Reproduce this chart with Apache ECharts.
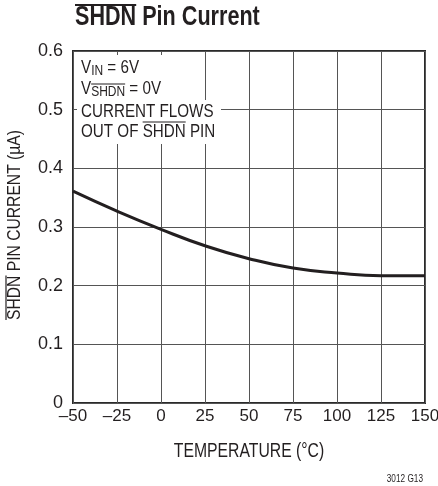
<!DOCTYPE html>
<html><head><meta charset="utf-8">
<script src="https://cdn.jsdelivr.net/npm/echarts@6/dist/echarts.min.js"></script>
<style>html,body{margin:0;padding:0;background:#fff}#c{width:438px;height:486px}</style>
</head><body><div id="c"></div>
<script>
var temperatures = [-50, -25, 0, 25, 50, 75, 100, 125, 150];
var pinCurrent = [0.361, 0.327, 0.296, 0.268, 0.246, 0.230, 0.2216, 0.217, 0.217];
var xTicks = [-50, -25, 0, 25, 50, 75, 100, 125, 150];
var yTicks = [0, 0.1, 0.2, 0.3, 0.4, 0.5, 0.6];

var FONT = '"Liberation Sans", Arial, sans-serif';
var TXT = '#231f20';
var chart = echarts.init(document.getElementById('c'), null, {renderer: 'canvas'});
var data = temperatures.map(function (t, i) { return [t, pinCurrent[i]]; });

var mctx = document.createElement('canvas').getContext('2d');
function tw(str, size, bold) {
  mctx.font = (bold ? 'bold ' : '') + size + 'px ' + FONT;
  return mctx.measureText(str).width;
}
function line(x1, y1, x2, y2, w) {
  return {type: 'line', z: 120, shape: {x1: x1, y1: y1, x2: x2, y2: y2}, style: {stroke: TXT, lineWidth: w || 1.2}};
}

// condensed-look scaling
var TS = 0.8, AS = 0.8, YS = 0.87, XS = 0.75;
var titleX = 75;
var titleOver = tw('SHDN', 27, true) * TS;
var annX = 81;
var vW = tw('V', 19) * AS;
var subW = tw('SHDN', 15) * AS;
var outW = tw('OUT OF ', 19) * AS;
var shdnW = tw('SHDN', 19) * AS;
var yLab = 'SHDN PIN CURRENT (µA)';
var yCx = 15, yCy = 225;
var yLen = tw(yLab, 18) * YS;
var yShdn = tw('SHDN', 18) * YS;

var rich = {
  m: {fontFamily: FONT, fontSize: 19, lineHeight: 21, fill: TXT},
  s: {fontFamily: FONT, fontSize: 15, lineHeight: 15, verticalAlign: 'bottom', fill: TXT}
};

var option = {
  backgroundColor: '#fff',
  animation: false,
  grid: {left: 73, top: 51, right: 13, bottom: 83, show: true, borderColor: '#2a2a2a', borderWidth: 2,
    backgroundColor: 'transparent', outerBoundsMode: 'none', containLabel: false},
  xAxis: {
    type: 'value', min: -50, max: 150, interval: 25,
    axisLine: {show: false}, axisTick: {show: false},
    axisLabel: {fontFamily: FONT, fontSize: 17, color: TXT, margin: 5,
      formatter: function (v) { return String(v).replace('-', '–'); }},
    splitLine: {show: true, lineStyle: {color: '#555', width: 1}}
  },
  yAxis: {
    type: 'value', min: 0, max: 0.6, interval: 0.1,
    axisLine: {show: false}, axisTick: {show: false},
    axisLabel: {fontFamily: FONT, fontSize: 18, color: TXT, margin: 10,
      formatter: function (v) { return v === 0 ? '0' : v.toFixed(1); }},
    splitLine: {show: true, lineStyle: {color: '#555', width: 1}}
  },
  series: [{
    type: 'line', data: data, smooth: true, symbol: 'none', z: 5,
    lineStyle: {color: '#231f20', width: 3}
  }],
  graphic: [
    {type: 'text', z: 115, x: titleX, y: 4, scaleX: TS, style: {
      text: 'SHDN Pin Current', fontFamily: FONT, fontSize: 27, fontWeight: 'bold', fill: TXT, align: 'left', verticalAlign: 'top'}},
    line(titleX, 5, titleX + titleOver, 5, 2),
    {type: 'rect', z: 110, shape: {x: 77, y: 55, width: 98, height: 45}, style: {fill: '#fff'}},
    {type: 'rect', z: 110, shape: {x: 77, y: 100, width: 144, height: 44}, style: {fill: '#fff'}},
    {type: 'text', z: 115, x: annX, y: 57, scaleX: AS, style: {text: '{m|V}{s|IN}{m| = 6V}', fill: TXT, rich: rich}},
    {type: 'text', z: 115, x: annX, y: 78, scaleX: AS, style: {text: '{m|V}{s|SHDN}{m| = 0V}', fill: TXT, rich: rich}},
    line(annX + vW, 84, annX + vW + subW, 84),
    {type: 'text', z: 115, x: annX, y: 102, scaleX: AS, style: {text: 'CURRENT FLOWS', fontFamily: FONT, fontSize: 19, fill: TXT}},
    {type: 'text', z: 115, x: annX, y: 122, scaleX: AS, style: {text: 'OUT OF SHDN PIN', fontFamily: FONT, fontSize: 19, fill: TXT}},
    line(annX + outW, 122, annX + outW + shdnW, 122),
    {type: 'text', z: 115, x: yCx, y: yCy, rotation: Math.PI / 2, scaleX: YS, style: {
      text: yLab, fontFamily: FONT, fontSize: 18, fill: TXT, align: 'center', verticalAlign: 'middle'}},
    line(yCx - 9, yCy + yLen / 2, yCx - 9, yCy + yLen / 2 - yShdn),
    {type: 'text', z: 115, x: 249, y: 451, scaleX: XS, style: {
      text: 'TEMPERATURE (°C)', fontFamily: FONT, fontSize: 21, fill: TXT, align: 'center', verticalAlign: 'middle'}},
    {type: 'text', z: 115, x: 423, y: 479, scaleX: 0.75, style: {
      text: '3012 G13', fontFamily: FONT, fontSize: 11, fill: TXT, align: 'right', verticalAlign: 'middle'}}
  ]
};
chart.setOption(option);
</script></body></html>
